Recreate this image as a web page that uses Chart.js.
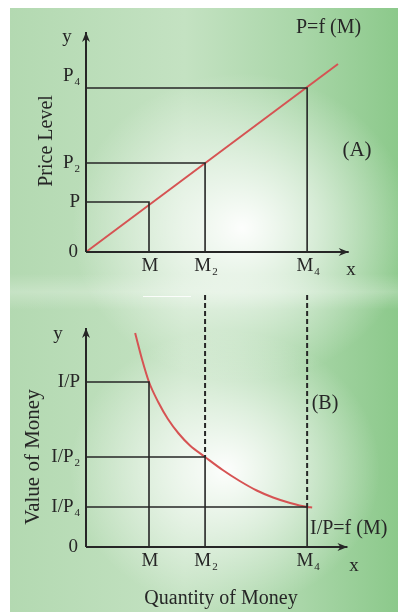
<!DOCTYPE html>
<html>
<head>
<meta charset="utf-8">
<script src="https://cdn.jsdelivr.net/npm/chart.js@4.4.1/dist/chart.umd.min.js"></script>
<style>
    html, body { margin: 0; padding: 0; background: #fff; }
    #wrap { position: relative; width: 398px; height: 612px; overflow: hidden; }
    #bg {
        position: absolute; left: 10px; top: 8px; right: 0; bottom: 0;
        background:
            radial-gradient(ellipse 170px 155px at 232px 220px, rgba(255,255,255,0.97) 0%, rgba(255,255,255,0.55) 45%, rgba(255,255,255,0) 100%),
            radial-gradient(ellipse 155px 140px at 215px 462px, rgba(255,255,255,0.97) 0%, rgba(255,255,255,0.55) 45%, rgba(255,255,255,0) 100%),
            linear-gradient(180deg, rgba(255,255,255,0) 0%, rgba(255,255,255,0) 44%, rgba(255,255,255,0.25) 47%, rgba(255,255,255,0) 50%, rgba(255,255,255,0) 100%),
            linear-gradient(90deg, #b3d9b1 0%, #c4e2c2 45%, #a9d6a8 75%, #8cc98b 100%);
    }
    #scan { position: absolute; left: 143px; top: 296px; width: 48px; height: 1px; background: rgba(255,255,255,0.85); }
    canvas { position: absolute; left: 0; top: 0; }
</style>
</head>
<body>
<div id="wrap">
    <div id="bg"></div>
    <div id="scan"></div>
    <canvas id="chartA" width="398" height="612"></canvas>
    <canvas id="chartB" width="398" height="612"></canvas>
</div>
<script>
// quantity of money on the x axis (shared by both panels)
const qtyPoints = [1.0, 1.89, 3.51];
const qtyLabels = ['M', 'M_2', 'M_4'];

// panel A: price level
const priceLevels = [1.0, 1.78, 3.28];
const priceLabels = ['P', 'P_2', 'P_4'];
const priceLineX = [0, 4.0];
const priceLineY = [0, 3.76];

// panel B: value of money
const moneyValues = [3.30, 1.80, 0.80];
const moneyLabels = ['I/P', 'I/P_2', 'I/P_4'];
const valueCurveX = [0.78, 0.89, 1.0, 1.15, 1.3, 1.47, 1.65, 1.89, 2.17, 2.44, 2.71, 2.97, 3.24, 3.51, 3.59];
const valueCurveY = [4.28, 3.75, 3.30, 2.89, 2.56, 2.27, 2.03, 1.80, 1.54, 1.32, 1.13, 0.99, 0.88, 0.80, 0.79];

const FONT = '"Liberation Serif", "DejaVu Serif", serif';
const INK = '#262626';
const RED = '#d65353';

const pts = (xs, ys) => xs.map((x, i) => ({ x, y: ys[i] }));

const drawRich = (ctx, text, x, y, align, size) => {
    const [base, sub] = text.split('_');
    const subSize = Math.round(size * 0.6);
    ctx.font = `${size}px ${FONT}`;
    const bw = ctx.measureText(base).width;
    ctx.font = `${subSize}px ${FONT}`;
    const sw = sub ? ctx.measureText(sub).width + 1 : 0;
    const total = bw + sw;
    const start = align === 'center' ? x - total / 2 : align === 'right' ? x - total : x;
    ctx.textAlign = 'left';
    ctx.textBaseline = 'middle';
    ctx.font = `${size}px ${FONT}`;
    ctx.fillText(base, start, y);
    if (sub) {
        ctx.font = `${subSize}px ${FONT}`;
        ctx.fillText(sub, start + bw + 1, y + 6);
    }
};

const arrowPlugin = {
    id: 'axisArrows',
    afterDatasetsDraw(chart) {
        const ctx = chart.ctx;
        chart.data.datasets.forEach((ds, i) => {
            if (!ds.arrow) return;
            const els = chart.getDatasetMeta(i).data;
            const tip = els[els.length - 1];
            const prev = els[els.length - 2];
            const a = Math.atan2(tip.y - prev.y, tip.x - prev.x);
            ctx.save();
            ctx.translate(tip.x, tip.y);
            ctx.rotate(a);
            ctx.fillStyle = INK;
            ctx.beginPath();
            ctx.moveTo(0, 0);
            ctx.lineTo(-10, -4);
            ctx.lineTo(-7, 0);
            ctx.lineTo(-10, 4);
            ctx.closePath();
            ctx.fill();
            ctx.restore();
        });
    }
};

const makeLabels = (cfg) => ({
    id: 'econLabels',
    afterDraw(chart) {
        const ctx = chart.ctx;
        const xs = chart.scales.x;
        const ys = chart.scales.y;
        const y0 = ys.getPixelForValue(0);
        ctx.save();
        ctx.fillStyle = INK;
        cfg.xValues.forEach((v, i) => {
            drawRich(ctx, cfg.xLabels[i], xs.getPixelForValue(v) + 1, y0 + 14, 'center', 19);
        });
        cfg.yValues.forEach((v, i) => {
            const nudge = cfg.nudge[cfg.yLabels[i]] || 0;
            drawRich(ctx, cfg.yLabels[i], 80, ys.getPixelForValue(v) + nudge, 'right', 19);
        });
        drawRich(ctx, '0', 78, y0, 'right', 19);
        cfg.notes.forEach((n) => drawRich(ctx, n.text, n.x, n.y, n.align, n.size));
        ctx.font = `${cfg.title.size}px ${FONT}`;
        ctx.textAlign = 'center';
        ctx.textBaseline = 'middle';
        ctx.save();
        ctx.translate(cfg.title.x, cfg.title.y);
        ctx.rotate(-Math.PI / 2);
        ctx.fillText(cfg.title.text, 0, 0);
        ctx.restore();
        if (cfg.bottomTitle) {
            ctx.font = `20px ${FONT}`;
            ctx.fillText(cfg.bottomTitle.text, cfg.bottomTitle.x, cfg.bottomTitle.y);
        }
        ctx.restore();
    }
});

const baseOptions = (padding, xMax, yMax) => ({
    responsive: false,
    animation: false,
    devicePixelRatio: 1,
    layout: { padding },
    scales: {
        x: { type: 'linear', display: false, min: 0, max: xMax },
        y: { type: 'linear', display: false, min: 0, max: yMax }
    },
    elements: { point: { radius: 0, hoverRadius: 0 }, line: { tension: 0 } },
    plugins: { legend: { display: false }, tooltip: { enabled: false } },
    events: []
});

const solid = (data, width = 1.6) => ({ data, borderColor: INK, borderWidth: width, fill: false, clip: false });

// ---------- panel A ----------
const dsA = [
    { ...solid([{ x: 0, y: 0 }, { x: 4.17, y: 0 }], 2), arrow: true },
    { ...solid([{ x: 0, y: 0 }, { x: 0, y: 4.4 }], 2), arrow: true }
];
qtyPoints.forEach((m, i) => {
    dsA.push(solid([{ x: 0, y: priceLevels[i] }, { x: m, y: priceLevels[i] }, { x: m, y: 0 }]));
});
dsA.push({ data: pts(priceLineX, priceLineY), borderColor: RED, borderWidth: 2, fill: false, clip: false });

new Chart(document.getElementById('chartA'), {
    type: 'line',
    data: { datasets: dsA },
    options: baseOptions({ left: 86, right: 34.8, top: 22, bottom: 360 }, 4.4, 4.6),
    plugins: [arrowPlugin, makeLabels({
        xValues: qtyPoints, xLabels: qtyLabels,
        yValues: priceLevels, yLabels: priceLabels,
        nudge: { 'P_4': -12 },
        notes: [
            { text: 'y', x: 67, y: 37, align: 'center', size: 19 },
            { text: 'x', x: 351, y: 270, align: 'center', size: 19 },
            { text: 'P=f (M)', x: 296, y: 28, align: 'left', size: 20 },
            { text: '(A)', x: 357, y: 150, align: 'center', size: 21 }
        ],
        title: { text: 'Price Level', x: 47, y: 141, size: 20 }
    })]
});

// ---------- panel B ----------
const dsB = [
    { ...solid([{ x: 0, y: 0 }, { x: 4.15, y: 0 }], 2), arrow: true },
    { ...solid([{ x: 0, y: 0 }, { x: 0, y: 4.38 }], 2), arrow: true }
];
qtyPoints.forEach((m, i) => {
    dsB.push(solid([{ x: 0, y: moneyValues[i] }, { x: m, y: moneyValues[i] }, { x: m, y: 0 }]));
    if (i > 0) {
        dsB.push({ ...solid([{ x: m, y: 5.04 }, { x: m, y: moneyValues[i] }], 2), borderDash: [5, 3] });
    }
});
dsB.push({
    data: pts(valueCurveX, valueCurveY), borderColor: RED, borderWidth: 2, fill: false, clip: false,
    cubicInterpolationMode: 'monotone'
});

new Chart(document.getElementById('chartB'), {
    type: 'line',
    data: { datasets: dsB },
    options: baseOptions({ left: 86, right: 34.8, top: 292, bottom: 65 }, 4.4, 5.1),
    plugins: [arrowPlugin, makeLabels({
        xValues: qtyPoints, xLabels: qtyLabels,
        yValues: moneyValues, yLabels: moneyLabels,
        nudge: {},
        notes: [
            { text: 'y', x: 58, y: 334, align: 'center', size: 19 },
            { text: 'x', x: 354, y: 566, align: 'center', size: 19 },
            { text: 'I/P=f (M)', x: 310, y: 529, align: 'left', size: 20 },
            { text: '(B)', x: 325, y: 404, align: 'center', size: 20 }
        ],
        title: { text: 'Value of Money', x: 33, y: 457, size: 21 },
        bottomTitle: { text: 'Quantity of Money', x: 221, y: 599 }
    })]
});
</script>
</body>
</html>
